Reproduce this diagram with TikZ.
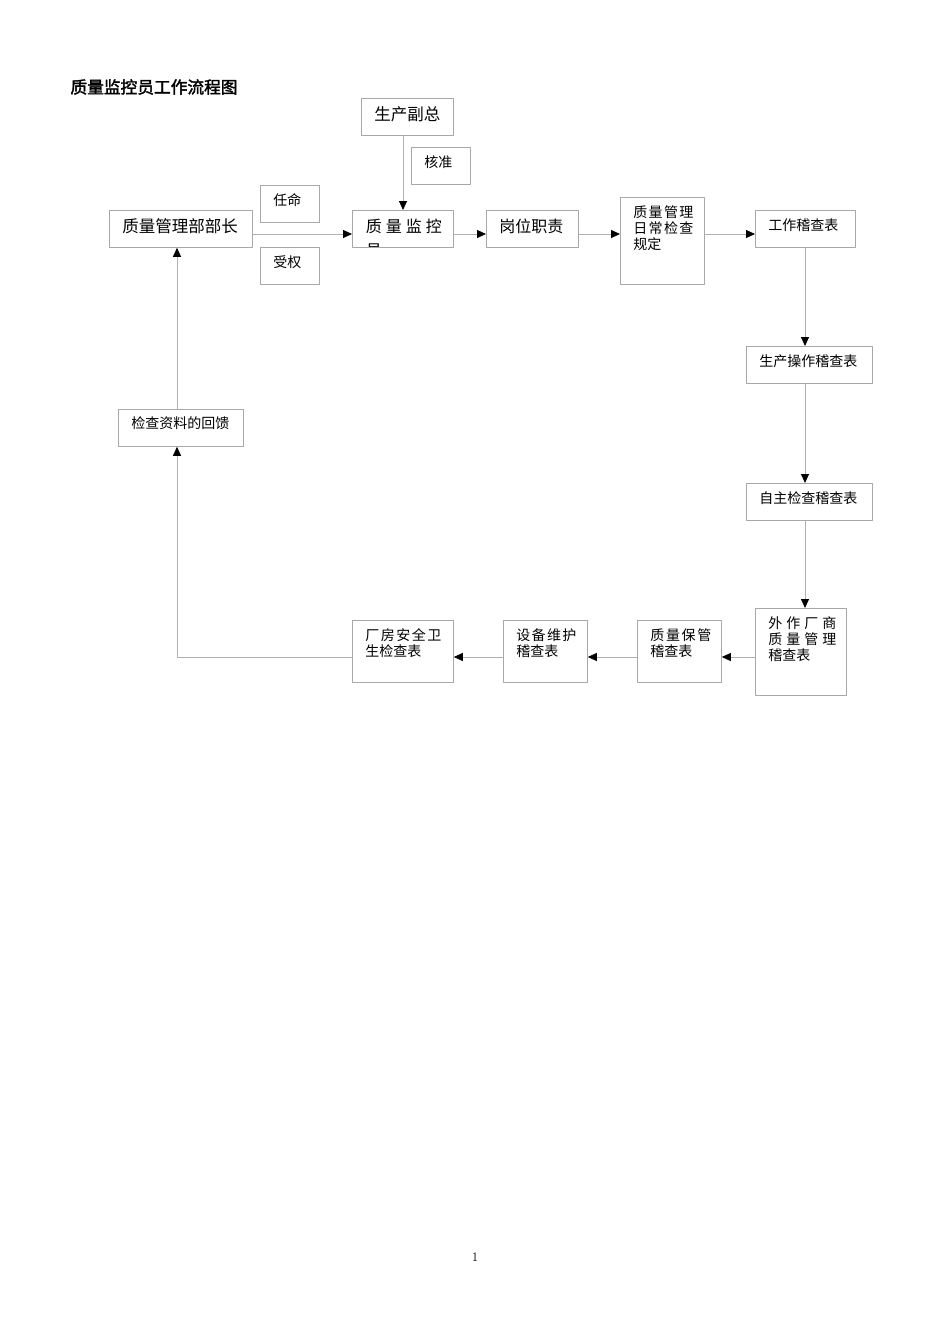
\documentclass[tikz,border=0pt]{standalone}
\usepackage{fontspec}
\usetikzlibrary{arrows.meta}
\newfontfamily\cjk{Noto Sans CJK SC}
\newfontfamily\cjkbold[FakeBold=2]{Noto Sans CJK SC}
\definecolor{boxgray}{HTML}{A8A8A8}
\definecolor{linegray}{HTML}{B0B0B0}
% text of a box: width, height, first baseline, lines
\newcommand{\cell}[4]{\parbox[c][#2][t]{#1}{\leftskip=13pt\rule{0pt}{#3}#4}}
\newcommand{\wide}[2]{\makebox[#1][s]{#2}}
\begin{document}
\begin{tikzpicture}[x=1pt,y=-1pt,line join=bevel]
  \tikzstyle{box}=[draw=boxgray,line width=0.8pt,anchor=north west,inner sep=0pt,font=\cjk\fontsize{14}{16.2}\selectfont]
  \tikzstyle{bigbox}=[box,font=\cjk\fontsize{16.5}{20}\selectfont]
  \tikzstyle{link}=[draw=linegray,line width=0.8pt,-{Triangle[black,length=9pt,width=8pt]}]
  \useasboundingbox (0,0) rectangle (950,1344);
  \node[anchor=west,font=\cjkbold\fontsize{16.7}{20}\selectfont] (H_1) at (67,87) {质量监控员工作流程图};
  % top row
  \node[bigbox] (F_1) at (109,210) {\cell{143pt}{37pt}{22.5pt}{质量管理部部长}};
  \node[bigbox] (F_2) at (361,98)  {\cell{92pt}{37pt}{22.5pt}{生产副总}};
  \node[box,minimum width=101pt,minimum height=37pt,
        path picture={\node[inner sep=0pt,anchor=north west,font=\cjk\fontsize{16}{24}\selectfont]
          at (path picture bounding box.north west)
          {\cell{101pt}{60pt}{22pt}{\wide{76pt}{质\hfill 量\hfill 监\hfill 控}\\员}};}] (F_3) at (352,210) {};
  \node[bigbox,font=\cjk\fontsize{16}{20}\selectfont] (F_4) at (486,210) {\cell{92pt}{37pt}{22pt}{岗位职责}};
  \node[box] (F_5) at (620,197) {\cell{84pt}{87pt}{20pt}{\wide{60pt}{质\hfill 量\hfill 管\hfill 理}\\\wide{60pt}{日\hfill 常\hfill 检\hfill 查}\\规定}};
  \node[box] (F_6) at (755,210) {\cell{100pt}{37pt}{20pt}{工作稽查表}};
  % labels on the top links
  \node[box] (T_1) at (411,147) {\cell{59pt}{37pt}{20pt}{核准}};
  \node[box] (T_2) at (260,185) {\cell{59pt}{37pt}{20pt}{任命}};
  \node[box] (T_3) at (260,247) {\cell{59pt}{37pt}{20pt}{受权}};
  % right column
  \node[box] (F_7) at (746,346) {\cell{126pt}{37pt}{20pt}{生产操作稽查表}};
  \node[box] (F_8) at (746,483) {\cell{126pt}{37pt}{20pt}{自主检查稽查表}};
  \node[box] (F_9) at (755,608) {\cell{91pt}{87pt}{20pt}{\wide{68pt}{外\hfill 作\hfill 厂\hfill 商}\\\wide{68pt}{质\hfill 量\hfill 管\hfill 理}\\稽查表}};
  % bottom row
  \node[box] (F_10) at (637,620) {\cell{84pt}{62pt}{20pt}{\wide{61pt}{质\hfill 量\hfill 保\hfill 管}\\稽查表}};
  \node[box] (F_11) at (503,620) {\cell{84pt}{62pt}{20pt}{\wide{60pt}{设\hfill 备\hfill 维\hfill 护}\\稽查表}};
  \node[box] (F_12) at (352,620) {\cell{101pt}{62pt}{20pt}{\wide{76pt}{厂\hfill 房\hfill 安\hfill 全\hfill 卫}\\生检查表}};
  \node[box] (F_13) at (118,409) {\cell{125pt}{37pt}{19pt}{检查资料的回馈}};
  \node (P_1) at (475,1257) {\fontsize{13}{15}\selectfont 1};
  \coordinate (R_1) at (0,234);
  \coordinate (R_2) at (0,657);
  \coordinate (C_1) at (805,0);
  \coordinate (C_2) at (177,0);
  \coordinate (C_3) at (403,0);
  \path[link] (F_1.east |- R_1) -- (F_3.west |- R_1);
  \path[link] (F_2.south -| C_3) -- (F_3.north -| C_3);
  \path[link] (F_3.east |- R_1) -- (F_4.west |- R_1);
  \path[link] (F_4.east |- R_1) -- (F_5.west |- R_1);
  \path[link] (F_5.east |- R_1) -- (F_6.west |- R_1);
  \path[link] (F_6.south -| C_1) -- (F_7.north -| C_1);
  \path[link] (F_7.south -| C_1) -- (F_8.north -| C_1);
  \path[link] (F_8.south -| C_1) -- (F_9.north -| C_1);
  \path[link] (F_9.west |- R_2) -- (F_10.east |- R_2);
  \path[link] (F_10.west |- R_2) -- (F_11.east |- R_2);
  \path[link] (F_11.west |- R_2) -- (F_12.east |- R_2);
  \path[link] (F_12.west |- R_2) -| (F_13.south -| C_2);
  \path[link] (F_13.north -| C_2) -- (F_1.south -| C_2);
\end{tikzpicture}
\end{document}
